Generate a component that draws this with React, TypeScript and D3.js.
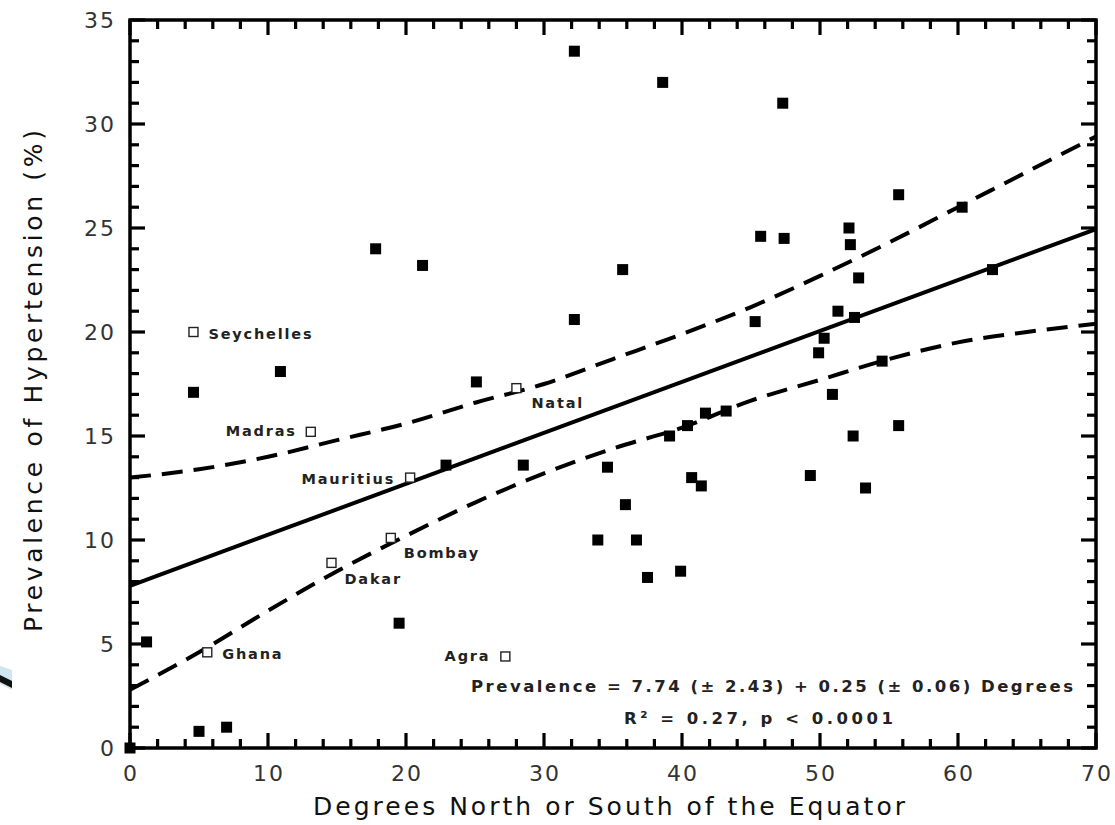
import React from "react";
import * as d3 from "d3";

// Filled squares: [degrees, prevalence]
const filledX = [0, 1.2, 5.0, 7.0, 4.6, 10.9, 17.8, 21.2, 32.2, 38.6, 35.7, 32.2, 25.1, 22.9, 28.5, 34.6, 35.9, 33.9, 36.7, 37.5, 39.9, 19.5, 40.7, 41.4, 39.1, 40.4, 41.7, 43.2, 47.3, 45.7, 47.4, 55.7, 60.3, 52.1, 52.2, 52.8, 51.3, 52.5, 45.3, 50.3, 49.9, 62.5, 54.5, 50.9, 55.7, 52.4, 49.3, 53.3];
const filledY = [0, 5.1, 0.8, 1.0, 17.1, 18.1, 24.0, 23.2, 33.5, 32.0, 23.0, 20.6, 17.6, 13.6, 13.6, 13.5, 11.7, 10.0, 10.0, 8.2, 8.5, 6.0, 13.0, 12.6, 15.0, 15.5, 16.1, 16.2, 31.0, 24.6, 24.5, 26.6, 26.0, 25.0, 24.2, 22.6, 21.0, 20.7, 20.5, 19.7, 19.0, 23.0, 18.6, 17.0, 15.5, 15.0, 13.1, 12.5];

// Open squares (labelled)
const openNames = ["Seychelles", "Madras", "Mauritius", "Natal", "Bombay", "Dakar", "Ghana", "Agra"];
const openX = [4.6, 13.1, 20.3, 28.0, 18.9, 14.6, 5.6, 27.2];
const openY = [20.0, 15.2, 13.0, 17.3, 10.1, 8.9, 4.6, 4.4];

// Regression line and confidence bands
const fitX = [0, 70];
const fitY = [7.8, 24.95];
const bandX = [0, 5, 10, 15, 20, 25, 30, 35, 40, 45, 50, 55, 60, 65, 70];
const upperY = [13.0, 13.4, 14.0, 14.8, 15.6, 16.6, 17.5, 18.7, 19.9, 21.2, 22.7, 24.3, 26.0, 27.7, 29.4];
const lowerY = [2.8, 4.6, 6.6, 8.5, 10.2, 11.8, 13.2, 14.4, 15.4, 16.7, 17.7, 18.7, 19.5, 20.0, 20.4];

const xTicks = [0, 10, 20, 30, 40, 50, 60, 70];
const yTicks = [0, 5, 10, 15, 20, 25, 30, 35];

const xTitle = "Degrees North or South of the Equator";
const yTitle = "Prevalence of Hypertension (%)";
const eqText = "Prevalence = 7.74 (\u00B1 2.43) + 0.25 (\u00B1 0.06) Degrees";
const r2Text = "R\u00B2 = 0.27, p < 0.0001";

const W = 1115, H = 825;
const L = 130, R = 1096, T = 20, B = 748;

export default function App() {
  const x = d3.scaleLinear().domain([0, 70]).range([L, R]);
  const y = d3.scaleLinear().domain([0, 35]).range([B, T]);
  const line = d3.line<[number, number]>().x(d => x(d[0])).y(d => y(d[1])).curve(d3.curveMonotoneX);

  const xMinor = d3.range(0, 71, 2);
  const yMinor = d3.range(0, 36, 1);
  const font = "'DejaVu Sans', Verdana, sans-serif";
  const tw = 3.2;

  const labelPos: Record<string, { dx: number; dy: number; anchor: string }> = {
    Seychelles: { dx: 15, dy: 2, anchor: "start" },
    Madras: { dx: -14, dy: -1, anchor: "end" },
    Mauritius: { dx: -15, dy: 1, anchor: "end" },
    Natal: { dx: 15, dy: 15, anchor: "start" },
    Bombay: { dx: 13, dy: 15, anchor: "start" },
    Dakar: { dx: 13, dy: 16, anchor: "start" },
    Ghana: { dx: 15, dy: 2, anchor: "start" },
    Agra: { dx: -15, dy: 0, anchor: "end" },
  };

  return (
    <svg width={W} height={H} style={{ position: "absolute", left: 0, top: 0, background: "#fff" }}>
      {/* slide decoration at left */}
      <path d="M0,666 L12,670 L12,690 L0,684 Z" fill="#cfe6f2" />
      <path d="M0,675 L12,681 L12,688 L0,682 Z" fill="#111" />

      {/* confidence bands */}
      <path d={line(bandX.map((v, i) => [v, upperY[i]]) as any) || ""} fill="none" stroke="#000" strokeWidth={4} strokeDasharray="21 11" />
      <path d={line(bandX.map((v, i) => [v, lowerY[i]]) as any) || ""} fill="none" stroke="#000" strokeWidth={4} strokeDasharray="21 11" />
      {/* fitted line */}
      <path d={line(fitX.map((v, i) => [v, fitY[i]]) as any) || ""} fill="none" stroke="#000" strokeWidth={4} />

      {/* filled points */}
      {filledX.map((v, i) => (
        <rect key={"f" + i} x={x(v) - 5.5} y={y(filledY[i]) - 5.5} width={11} height={11} fill="#000" />
      ))}
      {/* open points */}
      {openX.map((v, i) => (
        <rect key={"o" + i} x={x(v) - 4.5} y={y(openY[i]) - 4.5} width={9} height={9} fill="#fff" stroke="#222" strokeWidth={1.4} />
      ))}
      {openNames.map((n, i) => {
        const p = labelPos[n];
        return (
          <text key={"l" + i} x={x(openX[i]) + p.dx} y={y(openY[i]) + p.dy} textAnchor={p.anchor as any}
            dominantBaseline="central" fontFamily={font} fontSize={14.5} fontWeight="bold" letterSpacing={1.8} fill="#222">
            {n}
          </text>
        );
      })}

      {/* frame */}
      <rect x={L} y={T} width={R - L} height={B - T} fill="none" stroke="#000" strokeWidth={3.5} />
      {/* ticks, drawn on top of the frame */}
      {xMinor.map(v => {
        const len = v % 10 === 0 ? 15 : 9;
        return (
          <g key={"xt" + v}>
            <rect x={x(v) - tw / 2} y={B - len} width={tw} height={len} fill="#000" />
            <rect x={x(v) - tw / 2} y={T} width={tw} height={len} fill="#000" />
          </g>
        );
      })}
      {yMinor.map(v => {
        const len = v % 5 === 0 ? 15 : 9;
        return (
          <g key={"yt" + v}>
            <rect x={L} y={y(v) - tw / 2} width={len} height={tw} fill="#000" />
            <rect x={R - len} y={y(v) - tw / 2} width={len} height={tw} fill="#000" />
          </g>
        );
      })}

      {/* tick labels */}
      {xTicks.map((v, i) => (
        <text key={"xl" + i} x={x(v) + 1} y={773} textAnchor="middle" dominantBaseline="central"
          fontFamily={font} fontSize={22} letterSpacing={2} fill="#333">{v}</text>
      ))}
      {yTicks.map((v, i) => (
        <text key={"yl" + i} x={116} y={y(v)} textAnchor="end" dominantBaseline="central"
          fontFamily={font} fontSize={22} letterSpacing={2} fill="#333">{v}</text>
      ))}

      {/* axis titles */}
      <text x={313} y={806} dominantBaseline="central" fontFamily={font} fontSize={25} fill="#111"
        textLength={592} lengthAdjust="spacing">{xTitle}</text>
      <text transform={`translate(33,632) rotate(-90)`} dominantBaseline="central" fontFamily={font} fontSize={25} fill="#111"
        textLength={502} lengthAdjust="spacing">{yTitle}</text>

      {/* equation */}
      <text x={471} y={686} dominantBaseline="central" fontFamily={font} fontSize={16.5} fontWeight="bold" fill="#222"
        textLength={602} lengthAdjust="spacing">{eqText}</text>
      <text x={624} y={718} dominantBaseline="central" fontFamily={font} fontSize={16.5} fontWeight="bold" fill="#222"
        textLength={269} lengthAdjust="spacing">{r2Text}</text>
    </svg>
  );
}
